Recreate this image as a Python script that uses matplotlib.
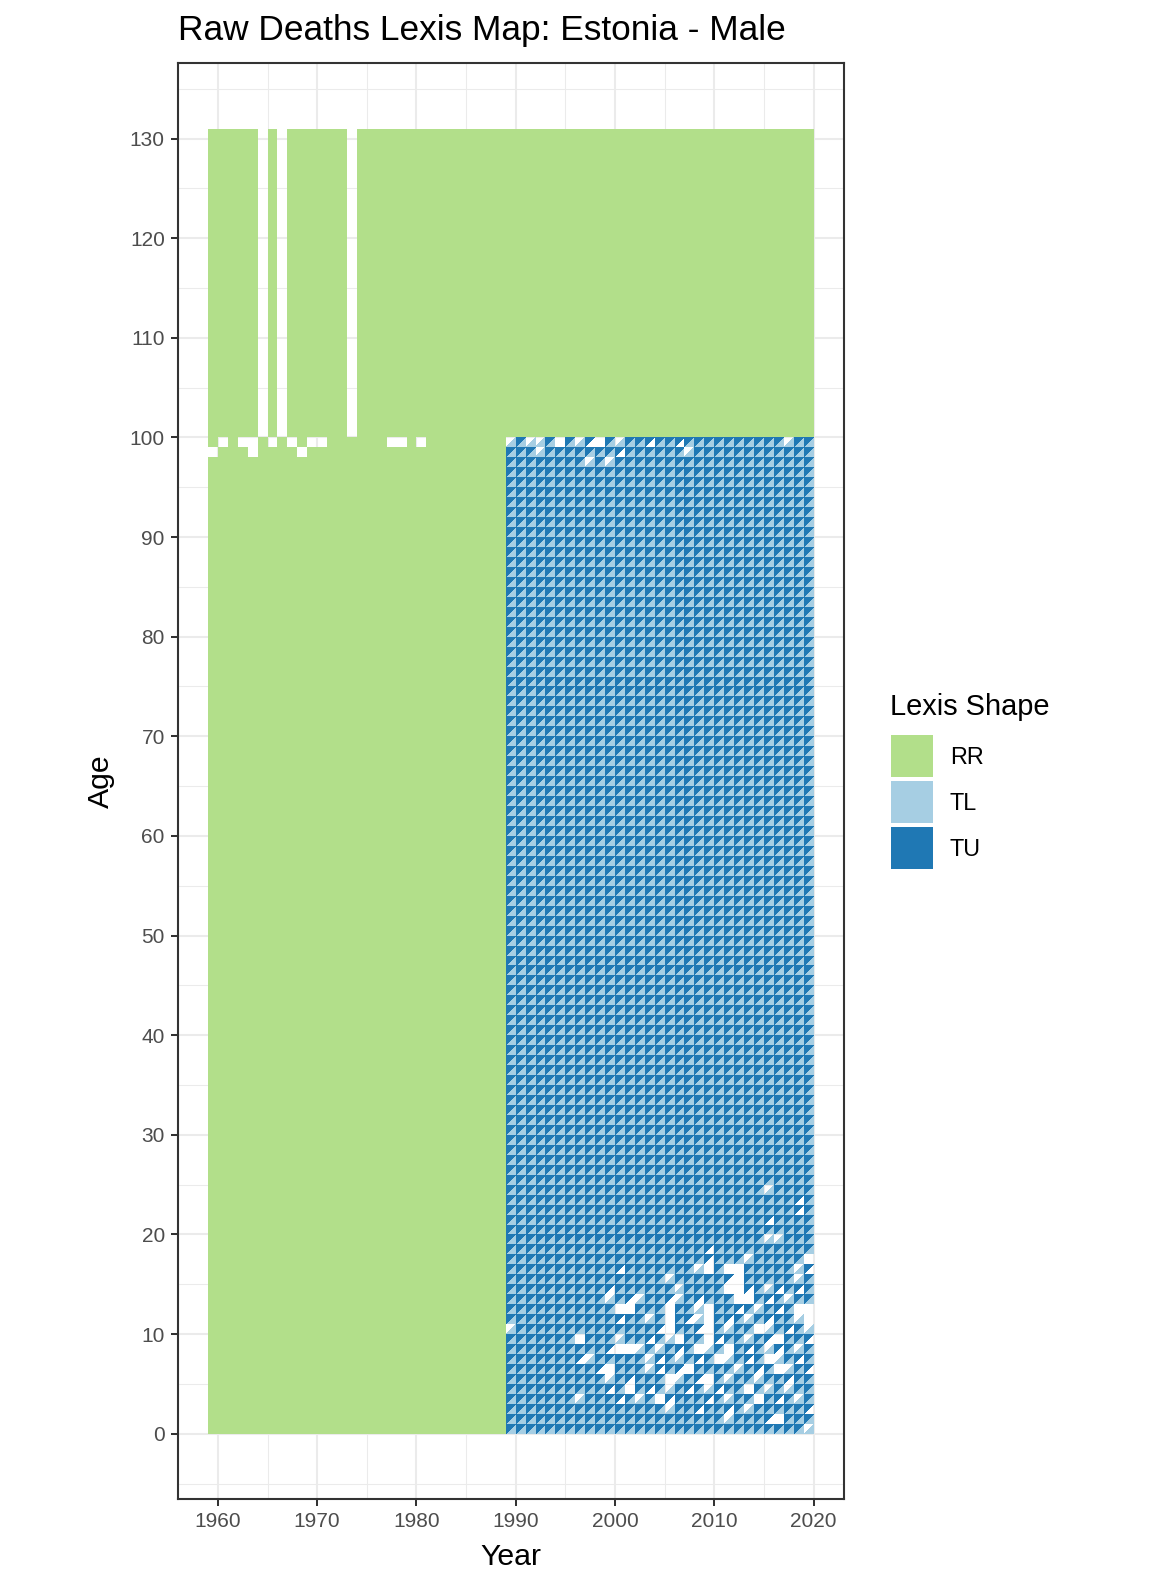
import matplotlib
matplotlib.use("Agg")
import matplotlib.pyplot as plt
from matplotlib.collections import PolyCollection
from matplotlib.patches import Rectangle

# ---- data ------------------------------------------------------------------
RR_YEARS = list(range(1959, 1989))      # rectangle cells, ages 0-99
TRI_YEARS = list(range(1989, 2020))     # triangle cells, ages 0-99
OPEN_YEARS = list(range(1959, 2020))    # open age group 100+
AGES = list(range(0, 100))
OPEN_AGE_LOW = 100
OPEN_AGE_HIGH = 131

# open age group missing in these years
OPEN_MISSING = [1964, 1966, 1973]

# RR cells with no data (year, age)
RR_MISSING = [(1960, 99), (1962, 99), (1963, 99), (1965, 99), (1967, 99),
              (1969, 99), (1970, 99), (1977, 99), (1978, 99), (1980, 99),
              (1959, 98), (1963, 98), (1968, 98)]

# triangles with no data (year, age)
TU_MISSING = [
    # top rows
    (1989, 99), (1991, 99), (1992, 99), (1994, 99), (1996, 99), (1998, 99),
    (2000, 99), (2017, 99), (1992, 98), (2007, 98), (1997, 97), (1999, 97),
    (1989, 10),
    # ages 16-24
    (2015, 24), (2015, 19), (2016, 19), (2013, 17), (2019, 17), (2008, 16),
    (2009, 16), (2011, 16), (2012, 16), (2018, 16),
    # ages 8-15
    (2005, 15), (2012, 15), (2018, 15),
    (2006, 14), (2011, 14), (2012, 14), (2015, 14),
    (1999, 13), (2002, 13), (2006, 13), (2012, 13), (2013, 13), (2017, 13),
    (2000, 12), (2001, 12), (2005, 12), (2008, 12), (2009, 12), (2014, 12),
    (2018, 12), (2019, 12),
    (2003, 11), (2005, 11), (2008, 11), (2009, 11), (2013, 11), (2018, 11),
    (2019, 11),
    (2005, 10), (2009, 10), (2011, 10), (2014, 10), (2015, 10), (2019, 10),
    (1996, 9), (2000, 9), (2005, 9), (2006, 9), (2009, 9), (2013, 9),
    (2016, 9),
    (2000, 8), (2001, 8), (2002, 8), (2004, 8), (2008, 8), (2009, 8),
    (2011, 8), (2015, 8), (2018, 8),
    # ages 0-7
    (1997, 7), (2003, 7), (2006, 7), (2010, 7), (2011, 7), (2015, 7),
    (2016, 7),
    (1999, 6), (2003, 6), (2007, 6), (2012, 6), (2016, 6), (2017, 6),
    (1999, 5), (2005, 5), (2006, 5), (2009, 5), (2011, 5), (2014, 5),
    (2001, 4), (2005, 4), (2009, 4), (2013, 4), (2015, 4), (2017, 4),
    (1996, 3), (2002, 3), (2004, 3), (2011, 3), (2014, 3), (2018, 3),
    (2005, 2), (2013, 2),
    (2011, 1), (2016, 1),
    (2019, 0),
]
TL_MISSING = [
    # top rows
    (1994, 99), (1997, 99), (1998, 99), (2003, 99), (2006, 99), (2000, 98),
    # ages 16-24
    (2018, 23), (2018, 22), (2015, 21), (2009, 18), (2009, 17), (2019, 17),
    (2000, 16), (2009, 16), (2011, 16), (2012, 16), (2019, 16),
    # ages 8-15
    (2011, 15), (2012, 15),
    (1999, 14), (2011, 14), (2012, 14), (2013, 14), (2016, 14), (2018, 14),
    (2001, 13), (2005, 13), (2008, 13), (2012, 13), (2013, 13), (2015, 13),
    (2000, 12), (2001, 12), (2005, 12), (2009, 12), (2012, 12), (2016, 12),
    (2018, 12), (2019, 12),
    (2000, 11), (2005, 11), (2007, 11), (2009, 11), (2011, 11), (2015, 11),
    (2019, 11),
    (2004, 10), (2005, 10), (2008, 10), (2009, 10), (2014, 10), (2017, 10),
    (1996, 9), (2003, 9), (2006, 9), (2009, 9), (2010, 9), (2015, 9),
    (2016, 9), (2019, 9),
    (1999, 8), (2000, 8), (2001, 8), (2006, 8), (2008, 8), (2011, 8),
    (2013, 8), (2016, 8),
    # ages 0-7
    (1996, 7), (2004, 7), (2008, 7), (2010, 7), (2013, 7), (2015, 7),
    (2018, 7),
    (1998, 6), (1999, 6), (2004, 6), (2006, 6), (2007, 6), (2014, 6),
    (2016, 6), (2019, 6),
    (2001, 5), (2005, 5), (2008, 5), (2009, 5), (2017, 5),
    (1999, 4), (2001, 4), (2003, 4), (2007, 4), (2010, 4), (2013, 4),
    (2000, 3), (2004, 3), (2005, 3), (2009, 3), (2014, 3), (2016, 3),
    (2008, 2), (2011, 2), (2019, 2),
    (2015, 1), (2016, 1),
]

SHAPES = ["RR", "TL", "TU"]
COLORS = {"RR": "#B2DF8A", "TL": "#A6CEE3", "TU": "#1F78B4"}

# ---- figure -----------------------------------------------------------------
W, H = 1152, 1584
fig = plt.figure(figsize=(W / 100, H / 100), dpi=100)
plt.rcParams["font.family"] = ["Liberation Sans", "DejaVu Sans"]

ax = fig.add_axes([177.7 / W, 1 - 1499 / H, (843.8 - 177.7) / W, (1499 - 63.3) / H])

# grid (theme_bw look)
for v in range(1960, 2021, 10):
    ax.axvline(v, color="#EBEBEB", lw=1.45, zorder=0)
for v in range(1965, 2020, 10):
    ax.axvline(v, color="#EBEBEB", lw=0.75, zorder=0)
for v in range(0, 131, 10):
    ax.axhline(v, color="#EBEBEB", lw=1.45, zorder=0)
for v in range(-5, 136, 10):
    ax.axhline(v, color="#EBEBEB", lw=0.75, zorder=0)

# RR rectangles
rr_missing = set(RR_MISSING)
rr_polys = []
for yr in RR_YEARS:
    for a in AGES:
        if (yr, a) in rr_missing:
            continue
        rr_polys.append([(yr, a), (yr + 1, a), (yr + 1, a + 1), (yr, a + 1)])
for yr in OPEN_YEARS:
    if yr in OPEN_MISSING:
        continue
    rr_polys.append([(yr, OPEN_AGE_LOW), (yr + 1, OPEN_AGE_LOW),
                     (yr + 1, OPEN_AGE_HIGH), (yr, OPEN_AGE_HIGH)])
ax.add_collection(PolyCollection(rr_polys, facecolor=COLORS["RR"],
                                 edgecolor="none", antialiased=False, zorder=2))

# triangles
tu_missing = set(TU_MISSING)
tl_missing = set(TL_MISSING)
tu_polys, tl_polys = [], []
for yr in TRI_YEARS:
    for a in AGES:
        if (yr, a) not in tu_missing:
            tu_polys.append([(yr, a), (yr, a + 1), (yr + 1, a + 1)])
        if (yr, a) not in tl_missing:
            tl_polys.append([(yr, a), (yr + 1, a), (yr + 1, a + 1)])
ax.add_collection(PolyCollection(tl_polys, facecolor=COLORS["TL"],
                                 edgecolor="none", antialiased=False, zorder=2))
ax.add_collection(PolyCollection(tu_polys, facecolor=COLORS["TU"],
                                 edgecolor="none", antialiased=False, zorder=2))

ax.set_xlim(1955.95, 2023.05)
ax.set_ylim(-6.55, 137.55)
ax.set_xticks(range(1960, 2021, 10))
ax.set_yticks(range(0, 131, 10))
ax.tick_params(axis="both", length=4.8, width=1.45, color="#333333",
               labelsize=15, labelcolor="#4D4D4D", pad=4.5)
for s in ax.spines.values():
    s.set_color("#333333")
    s.set_linewidth(1.5)
    s.set_zorder(5)

# titles
fig.text(177.7 / W, 1 - 40 / H, "Raw Deaths Lexis Map: Estonia - Male",
         fontsize=25.4, ha="left", va="baseline", color="black")
fig.text((177.7 + 843.8) / 2 / W, 1 - 1565 / H, "Year",
         fontsize=21.8, ha="center", va="baseline", color="black")
fig.text(101 / W, 1 - 781 / H, "Age", fontsize=21.8, rotation=90,
         ha="center", va="center", color="black")

# legend
fig.text(890 / W, 1 - 715 / H, "Lexis Shape", fontsize=20.9,
         ha="left", va="baseline", color="black")
for i, shp in enumerate(SHAPES):
    top = 735 + 46 * i
    fig.add_artist(Rectangle((891 / W, 1 - (top + 42) / H), 42 / W, 42 / H,
                             transform=fig.transFigure, facecolor=COLORS[shp],
                             edgecolor="none"))
    fig.text(950 / W, 1 - (top + 21 + 8.4) / H, shp, fontsize=16.8,
             ha="left", va="baseline", color="black")

fig.savefig("out.png", dpi=100, facecolor="white")
